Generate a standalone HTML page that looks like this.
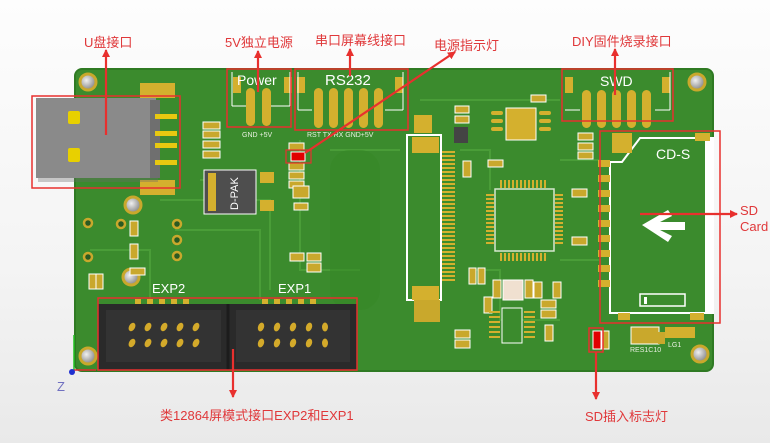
<!DOCTYPE html>
<html><head><meta charset="utf-8"><style>
html,body{margin:0;padding:0;width:770px;height:443px;overflow:hidden;background:linear-gradient(#fdfdfd,#f4f4f4 60%,#e9e9e9);}
svg{display:block}
.lbl{font-family:"Liberation Sans","Noto Sans CJK SC",sans-serif;fill:#e0383a;font-size:13px}
.wt{font-family:"Liberation Sans",sans-serif;fill:#fff}
.sm{font-family:"Liberation Sans",sans-serif;fill:#e8f0e0;font-size:7px}
</style></head><body>
<svg width="770" height="443" viewBox="0 0 770 443" xmlns="http://www.w3.org/2000/svg">
<defs>
<marker id="ah" markerWidth="8" markerHeight="8" refX="7" refY="4" orient="auto" markerUnits="userSpaceOnUse"><path d="M0,0 L8,4 L0,8 z" fill="#e8302e"/></marker>
<radialGradient id="hole" cx="0.4" cy="0.4" r="0.6"><stop offset="0" stop-color="#f0f0f0"/><stop offset="1" stop-color="#888"/></radialGradient>
</defs>
<rect x="75" y="69" width="638" height="302" rx="7" fill="#3b8b2d"/>
<rect x="75" y="69" width="638" height="302" rx="7" fill="none" stroke="#2f7a23" stroke-width="2"/>
<g stroke="#4a9d38" stroke-width="2" fill="none">
<path d="M160 200 H270 V290"/><path d="M175 230 H260 V300"/><path d="M300 140 V270 H360"/><path d="M330 150 H400"/><path d="M460 150 H490 V190"/><path d="M560 160 H600"/><path d="M560 260 H600 V300"/><path d="M470 270 H500 V320 H560"/><path d="M200 180 H230"/><path d="M90 250 H150 V300"/><path d="M420 100 H560"/>
</g>
<rect x="330" y="150" width="50" height="160" rx="20" fill="#378827" opacity="0.6"/>
<g stroke="#c9a82c" stroke-width="3" fill="url(#hole)">
<circle cx="88" cy="82" r="8"/><circle cx="697" cy="82" r="8"/><circle cx="88" cy="356" r="8"/><circle cx="700" cy="354" r="8"/>
<circle cx="133" cy="205" r="8"/><circle cx="131" cy="277" r="8"/>
</g>
<g stroke="#c9a82c" stroke-width="2.5" fill="#2a5a22">
<circle cx="88" cy="223" r="4"/><circle cx="88" cy="257" r="4"/><circle cx="177" cy="224" r="4"/><circle cx="177" cy="240" r="4"/><circle cx="177" cy="256" r="4"/><circle cx="121" cy="224" r="4"/>
</g>
<rect x="140" y="83" width="35" height="15" fill="#d4b02e"/><rect x="140" y="180" width="35" height="15" fill="#d4b02e"/>
<rect x="38" y="100" width="120" height="82" fill="#6a6a6a" opacity="0.35"/>
<rect x="36" y="98" width="120" height="80" fill="#8a8a8a"/>
<rect x="150" y="100" width="10" height="78" fill="#6f6f6f"/>
<g fill="#e8d000"><rect x="68" y="111" width="12" height="13" rx="2"/><rect x="68" y="148" width="12" height="14" rx="2"/></g>
<g fill="#e8c810"><rect x="155" y="114" width="22" height="5"/><rect x="155" y="131" width="22" height="5"/><rect x="155" y="143" width="22" height="5"/><rect x="155" y="160" width="22" height="5"/></g>
<g fill="#c9a82c" stroke="#fff" stroke-width="1">
<rect x="203" y="122" width="17" height="7"/><rect x="203" y="131" width="17" height="7"/><rect x="203" y="141" width="17" height="7"/><rect x="203" y="151" width="17" height="7"/>
<rect x="289" y="143" width="15" height="7"/><rect x="289" y="163" width="15" height="7"/><rect x="289" y="172" width="15" height="7"/><rect x="289" y="181" width="15" height="7"/>
<rect x="130" y="221" width="8" height="15"/><rect x="130" y="244" width="8" height="15"/><rect x="130" y="268" width="15" height="7"/>
<rect x="89" y="274" width="7" height="15"/><rect x="96" y="274" width="7" height="15"/>
<rect x="290" y="253" width="14" height="8"/><rect x="307" y="253" width="14" height="8"/><rect x="307" y="263" width="14" height="9"/>
<rect x="294" y="203" width="14" height="7"/><rect x="293" y="186" width="16" height="12"/>
</g>
<rect x="291" y="152" width="14" height="9" fill="#e00000" stroke="#fff"/>
<rect x="286" y="150" width="25" height="13" fill="none" stroke="#e8302e" stroke-width="1.2"/>
<rect x="204" y="170" width="52" height="44" fill="#4e4e4e" stroke="#fff"/>
<rect x="208" y="173" width="8" height="38" fill="#d4b02e"/>
<text class="wt" font-size="11" transform="translate(238,210) rotate(-90)">D-PAK</text>
<rect x="260" y="172" width="14" height="11" fill="#d4b02e"/><rect x="260" y="200" width="14" height="11" fill="#d4b02e"/>
<rect x="233" y="77" width="8" height="16" fill="#d4b02e"/><rect x="284" y="77" width="8" height="16" fill="#d4b02e"/>
<path d="M232 106 H248 M268 106 H290 M232 72 V106 M290 72 V106" stroke="#fff" fill="none"/>
<rect x="246" y="88" width="9" height="38" rx="4.5" fill="#d4b02e"/><rect x="262" y="88" width="9" height="38" rx="4.5" fill="#d4b02e"/>
<text class="wt" x="237" y="85" font-size="14">Power</text>
<text class="sm" x="242" y="137">GND +5V</text>
<rect x="297" y="77" width="8" height="16" fill="#d4b02e"/><rect x="395" y="77" width="8" height="16" fill="#d4b02e"/>
<path d="M298 110 H312 M385 110 H403 M298 72 V110 M403 72 V110" stroke="#fff" fill="none"/>
<g fill="#d4b02e"><rect x="314" y="88" width="9" height="40" rx="4.5"/><rect x="329" y="88" width="9" height="40" rx="4.5"/><rect x="344" y="88" width="9" height="40" rx="4.5"/><rect x="359" y="88" width="9" height="40" rx="4.5"/><rect x="374" y="88" width="9" height="40" rx="4.5"/></g>
<text class="wt" x="325" y="85" font-size="15">RS232</text>
<text class="sm" x="307" y="137">RST  TX  RX GND+5V</text>
<rect x="565" y="77" width="8" height="16" fill="#d4b02e"/><rect x="662" y="77" width="8" height="16" fill="#d4b02e"/>
<path d="M565 110 H580 M655 110 H670 M670 72 V110" stroke="#fff" fill="none"/>
<g fill="#d4b02e"><rect x="582" y="90" width="9" height="38" rx="4.5"/><rect x="597" y="90" width="9" height="38" rx="4.5"/><rect x="612" y="90" width="9" height="38" rx="4.5"/><rect x="627" y="90" width="9" height="38" rx="4.5"/><rect x="642" y="90" width="9" height="38" rx="4.5"/></g>
<text class="wt" x="600" y="86" font-size="14">SWD</text>
<rect x="506" y="108" width="30" height="32" fill="#d4b02e" stroke="#fff" stroke-width="1"/>
<g fill="#d4b02e"><rect x="491" y="111" width="12" height="4" rx="2"/><rect x="491" y="119" width="12" height="4" rx="2"/><rect x="491" y="127" width="12" height="4" rx="2"/><rect x="539" y="111" width="12" height="4" rx="2"/><rect x="539" y="119" width="12" height="4" rx="2"/><rect x="539" y="127" width="12" height="4" rx="2"/></g>
<rect x="414" y="115" width="18" height="18" fill="#d4b02e"/>
<rect x="454" y="127" width="14" height="16" fill="#444"/>
<g fill="#c9a82c" stroke="#fff"><rect x="455" y="106" width="14" height="7"/><rect x="455" y="116" width="14" height="7"/><rect x="531" y="95" width="15" height="7"/><rect x="578" y="133" width="15" height="7"/><rect x="578" y="143" width="15" height="7"/><rect x="578" y="152" width="15" height="7"/><rect x="488" y="160" width="15" height="7"/><rect x="463" y="161" width="8" height="16"/><rect x="572" y="189" width="15" height="8"/><rect x="572" y="237" width="15" height="8"/></g>
<rect x="407" y="135" width="34" height="165" fill="#3b8b2d" stroke="#fff" stroke-width="2"/>
<rect x="412" y="137" width="27" height="16" fill="#d4b02e"/><rect x="412" y="286" width="27" height="14" fill="#d4b02e"/>
<rect x="414" y="300" width="26" height="22" fill="#c9a82c"/>
<g stroke="#d4b02e" stroke-width="2">
<path d="M442 152 H455 M442 156 H455 M442 160 H455 M442 164 H455 M442 168 H455 M442 172 H455 M442 176 H455 M442 180 H455 M442 184 H455 M442 188 H455 M442 192 H455 M442 196 H455 M442 200 H455 M442 204 H455 M442 208 H455 M442 212 H455 M442 216 H455 M442 220 H455 M442 224 H455 M442 228 H455 M442 232 H455 M442 236 H455 M442 240 H455 M442 244 H455 M442 248 H455 M442 252 H455 M442 256 H455 M442 260 H455 M442 264 H455 M442 268 H455 M442 272 H455 M442 276 H455 M442 280 H455"/>
</g>
<rect x="495" y="189" width="59" height="62" fill="#3b8b2d" stroke="#d8e8d0" stroke-width="1.5"/>
<g stroke="#d4b02e" stroke-width="2">
<path d="M501 180 V188 M505 180 V188 M509 180 V188 M513 180 V188 M517 180 V188 M521 180 V188 M525 180 V188 M529 180 V188 M533 180 V188 M537 180 V188 M541 180 V188 M545 180 V188"/>
<path d="M501 253 V261 M505 253 V261 M509 253 V261 M513 253 V261 M517 253 V261 M521 253 V261 M525 253 V261 M529 253 V261 M533 253 V261 M537 253 V261 M541 253 V261 M545 253 V261"/>
<path d="M486 195 H494 M486 199 H494 M486 203 H494 M486 207 H494 M486 211 H494 M486 215 H494 M486 219 H494 M486 223 H494 M486 227 H494 M486 231 H494 M486 235 H494 M486 239 H494 M486 243 H494"/>
<path d="M555 195 H563 M555 199 H563 M555 203 H563 M555 207 H563 M555 211 H563 M555 215 H563 M555 219 H563 M555 223 H563 M555 227 H563 M555 231 H563 M555 235 H563 M555 239 H563 M555 243 H563"/>
</g>
<rect x="503" y="280" width="20" height="20" fill="#f0e0d0" stroke="#fff"/>
<g fill="#c9a82c" stroke="#fff"><rect x="469" y="268" width="7" height="16"/><rect x="478" y="268" width="7" height="16"/><rect x="493" y="280" width="8" height="18"/><rect x="525" y="280" width="8" height="18"/><rect x="484" y="297" width="8" height="16"/><rect x="541" y="300" width="15" height="8"/><rect x="541" y="310" width="15" height="8"/><rect x="455" y="330" width="15" height="8"/><rect x="455" y="340" width="15" height="8"/><rect x="545" y="325" width="8" height="16"/><rect x="534" y="282" width="8" height="16"/><rect x="553" y="282" width="8" height="16"/></g>
<rect x="502" y="308" width="20" height="35" fill="#3b8b2d" stroke="#fff"/>
<g stroke="#d4b02e" stroke-width="2"><path d="M489 312 H500 M489 317 H500 M489 322 H500 M489 327 H500 M489 332 H500 M489 337 H500 M524 312 H535 M524 317 H535 M524 322 H535 M524 327 H535 M524 332 H535 M524 337 H535"/></g>
<path d="M610 162 H622 L628 154 L640 138 H713 V313 H610 Z" fill="#3b8b2d" stroke="#fff" stroke-width="2"/>
<rect x="705" y="138" width="9" height="175" fill="#fff"/>
<rect x="695" y="133" width="15" height="8" fill="#d4b02e"/>
<rect x="612" y="133" width="20" height="20" fill="#d4b02e"/>
<g fill="#d4b02e"><rect x="598" y="160" width="12" height="7"/><rect x="598" y="175" width="12" height="7"/><rect x="598" y="190" width="12" height="7"/><rect x="598" y="205" width="12" height="7"/><rect x="598" y="220" width="12" height="7"/><rect x="598" y="235" width="12" height="7"/><rect x="598" y="250" width="12" height="7"/><rect x="598" y="265" width="12" height="7"/><rect x="598" y="280" width="12" height="7"/><rect x="618" y="313" width="12" height="7"/><rect x="690" y="313" width="14" height="7"/></g>
<text class="wt" x="656" y="159" font-size="14">CD-S</text>
<path d="M642 225 L668 210 L672 216 L660 222 H685 V230 H660 L672 236 L668 242 Z" fill="#fff"/>
<rect x="640" y="294" width="45" height="12" fill="none" stroke="#fff" stroke-width="1.5"/><rect x="644" y="297" width="3" height="7" fill="#fff"/>
<rect x="593" y="331" width="8" height="18" fill="#e00000" stroke="#fff"/>
<rect x="602" y="331" width="7" height="18" fill="#c9a82c" stroke="#fff"/>
<rect x="631" y="327" width="28" height="17" fill="#c9a82c" stroke="#fff"/>
<rect x="665" y="327" width="30" height="11" fill="#d4b02e"/><rect x="658" y="332" width="7" height="12" fill="#c9a82c"/>
<text class="sm" x="630" y="352">RES1C10</text><text class="sm" x="668" y="347">LG1</text>
<g fill="#d4b02e"><rect x="135" y="299" width="6" height="5"/><rect x="147" y="299" width="6" height="5"/><rect x="159" y="299" width="6" height="5"/><rect x="171" y="299" width="6" height="5"/><rect x="183" y="299" width="6" height="5"/><rect x="262" y="299" width="6" height="5"/><rect x="274" y="299" width="6" height="5"/><rect x="286" y="299" width="6" height="5"/><rect x="298" y="299" width="6" height="5"/><rect x="310" y="299" width="6" height="5"/></g>
<rect x="98" y="304" width="259" height="66" fill="#2a2a2a"/>
<rect x="106" y="310" width="115" height="52" fill="#333"/><rect x="236" y="310" width="114" height="52" fill="#333"/>
<line x1="228" y1="304" x2="228" y2="370" stroke="#1c1c1c" stroke-width="3"/>
<g fill="#d4aa2a">
<ellipse cx="132" cy="327" rx="3" ry="4.5" transform="rotate(30 132 327)"/><ellipse cx="148" cy="327" rx="3" ry="4.5" transform="rotate(30 148 327)"/><ellipse cx="164" cy="327" rx="3" ry="4.5" transform="rotate(30 164 327)"/><ellipse cx="180" cy="327" rx="3" ry="4.5" transform="rotate(30 180 327)"/><ellipse cx="196" cy="327" rx="3" ry="4.5" transform="rotate(30 196 327)"/>
<ellipse cx="132" cy="343" rx="3" ry="4.5" transform="rotate(30 132 343)"/><ellipse cx="148" cy="343" rx="3" ry="4.5" transform="rotate(30 148 343)"/><ellipse cx="164" cy="343" rx="3" ry="4.5" transform="rotate(30 164 343)"/><ellipse cx="180" cy="343" rx="3" ry="4.5" transform="rotate(30 180 343)"/><ellipse cx="196" cy="343" rx="3" ry="4.5" transform="rotate(30 196 343)"/>
<ellipse cx="261" cy="327" rx="3" ry="4.5" transform="rotate(20 261 327)"/><ellipse cx="277" cy="327" rx="3" ry="4.5" transform="rotate(20 277 327)"/><ellipse cx="293" cy="327" rx="3" ry="4.5" transform="rotate(20 293 327)"/><ellipse cx="309" cy="327" rx="3" ry="4.5" transform="rotate(20 309 327)"/><ellipse cx="325" cy="327" rx="3" ry="4.5"/>
<ellipse cx="261" cy="343" rx="3" ry="4.5" transform="rotate(20 261 343)"/><ellipse cx="277" cy="343" rx="3" ry="4.5" transform="rotate(20 277 343)"/><ellipse cx="293" cy="343" rx="3" ry="4.5" transform="rotate(20 293 343)"/><ellipse cx="309" cy="343" rx="3" ry="4.5" transform="rotate(20 309 343)"/><ellipse cx="325" cy="343" rx="3" ry="4.5"/>
</g>
<text class="wt" x="152" y="293" font-size="13">EXP2</text>
<text class="wt" x="278" y="293" font-size="13">EXP1</text>
<line x1="74" y1="370" x2="74" y2="335" stroke="#20c020" stroke-width="1.5"/>
<line x1="74" y1="370" x2="96" y2="370" stroke="#e03030" stroke-width="1.5"/>
<circle cx="72" cy="372" r="3" fill="#2030d0"/>
<text x="57" y="391" font-family="Liberation Sans,sans-serif" font-size="13" fill="#7070c0">Z</text>
<g fill="none" stroke="#e8302e" stroke-width="1.5">
<rect x="32" y="96" width="148" height="92"/>
<rect x="227" y="69" width="64" height="58"/>
<rect x="295" y="69" width="113" height="61"/>
<rect x="562" y="69" width="111" height="52"/>
<rect x="600" y="131" width="120" height="192"/>
<rect x="98" y="298" width="259" height="72"/>
<rect x="589" y="328" width="14" height="24"/>
</g>
<g stroke="#e8302e" stroke-width="2.2" fill="none" marker-end="url(#ah)">
<line x1="106" y1="135" x2="106" y2="50"/>
<line x1="258" y1="92" x2="258" y2="51"/>
<line x1="350" y1="76" x2="350" y2="49"/>
<line x1="305" y1="153" x2="455" y2="52"/>
<line x1="615" y1="95" x2="615" y2="49"/>
<line x1="640" y1="214" x2="737" y2="214"/>
<line x1="233" y1="349" x2="233" y2="397"/>
<line x1="596" y1="352" x2="596" y2="399"/>
</g>
<text class="lbl" x="84" y="47">U盘接口</text>
<text class="lbl" x="225" y="47">5V独立电源</text>
<text class="lbl" x="315" y="45">串口屏幕线接口</text>
<text class="lbl" x="434" y="50">电源指示灯</text>
<text class="lbl" x="572" y="46">DIY固件烧录接口</text>
<text class="lbl" x="740" y="215">SD</text>
<text class="lbl" x="740" y="231">Card</text>
<text class="lbl" x="160" y="420">类12864屏模式接口EXP2和EXP1</text>
<text class="lbl" x="585" y="421">SD插入标志灯</text>
</svg>
</body></html>
